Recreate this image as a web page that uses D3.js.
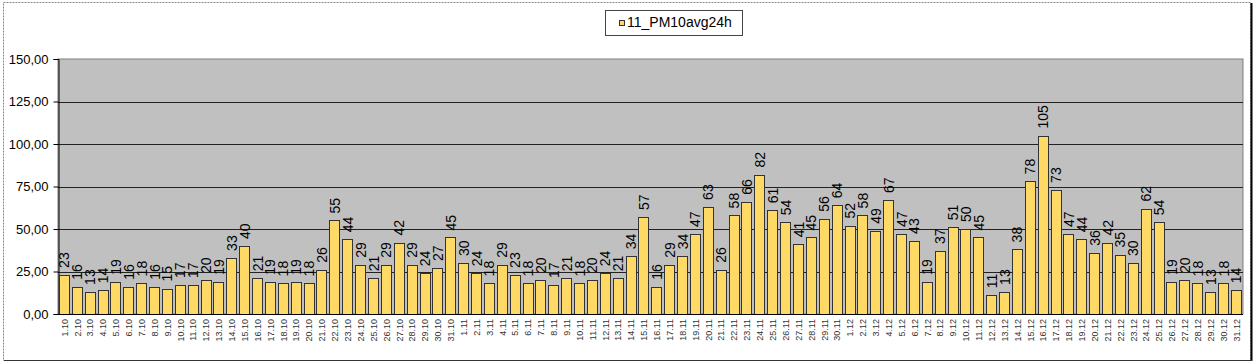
<!DOCTYPE html>
<meta charset="utf-8">
<style>
    body { margin: 0; background: #fff; font-family: Arial, "Liberation Sans", sans-serif; }
    .grid line { stroke: #222; stroke-width: 1; }
    .bar { fill: #FFD966; stroke: #333; stroke-width: 1; }
    .vlabel { font-size: 14px; fill: #000; }
    .xlabel { font-size: 9px; fill: #333; }
    .ylabel { font-size: 13px; fill: #000; }
</style>
<body>
<script src="https://d3js.org/d3.v7.min.js"></script>
<script>
    // daily PM10 24h averages, 1 Oct - 31 Dec
    var octValues = [23, 16, 13, 14, 19, 16, 18, 16, 15, 17, 17, 20, 19, 33, 40, 21, 19, 18, 19, 18,
                     26, 55, 44, 29, 21, 29, 42, 29, 24, 27, 45];
    var novValues = [30, 24, 18, 29, 23, 18, 20, 17, 21, 18, 20, 24, 21, 34, 57, 16, 29, 34, 47, 63,
                     26, 58, 66, 82, 61, 54, 41, 45, 56, 64];
    var decValues = [52, 58, 49, 67, 47, 43, 19, 37, 51, 50, 45, 11, 13, 38, 78, 105, 73, 47, 44, 36,
                     42, 35, 30, 62, 54, 19, 20, 18, 13, 18, 14];
    var months = [10, 11, 12];
    var monthLengths = [31, 30, 31];
    var seriesName = "11_PM10avg24h";
    var yTicks = [0, 25, 50, 75, 100, 125, 150];

    var values = octValues.concat(novValues, decValues);
    var categories = [];
    months.forEach(function(m, i) {
        d3.range(1, monthLengths[i] + 1).forEach(function(d) { categories.push(d + "." + m); });
    });
    var data = categories.map(function(c, i) { return {label: c, value: values[i]}; });

    var W = 1254, H = 364;
    var plot = {left: 58, right: 1243, top: 59, bottom: 314};

    var svg = d3.select("body").append("svg")
        .attr("width", W)
        .attr("height", H);

    // outer chart frame
    svg.append("rect")
        .attr("x", 3.5).attr("y", 2.5)
        .attr("width", 1247).attr("height", 358)
        .attr("fill", "#fff")
        .attr("stroke", "#888")
        .attr("stroke-dasharray", "2,1");
    svg.append("line")
        .attr("x1", 1251.5).attr("x2", 1251.5).attr("y1", 3).attr("y2", 361)
        .attr("stroke", "#000").attr("stroke-width", 2);
    svg.append("line")
        .attr("x1", 4).attr("x2", 1252).attr("y1", 360.5).attr("y2", 360.5)
        .attr("stroke", "#333").attr("stroke-width", 1);

    var x = d3.scaleBand()
        .domain(categories)
        .range([plot.left, plot.right])
        .paddingInner(0.13)
        .paddingOuter(0.07);
    var y = d3.scaleLinear()
        .domain([0, 150])
        .range([plot.bottom, plot.top]);

    // plot area
    svg.append("rect")
        .attr("x", plot.left).attr("y", plot.top)
        .attr("width", plot.right - plot.left).attr("height", plot.bottom - plot.top)
        .attr("fill", "#C0C0C0")
        .attr("stroke", "#808080");

    svg.append("g")
        .attr("class", "grid")
        .selectAll("line")
        .data(yTicks.filter(function(t) { return t > 0 && t < 150; }))
        .enter().append("line")
        .attr("x1", plot.left).attr("x2", plot.right)
        .attr("y1", function(d) { return Math.round(y(d)) + 0.5; })
        .attr("y2", function(d) { return Math.round(y(d)) + 0.5; });

    // y axis
    var yAxis = d3.axisLeft(y)
        .tickValues(yTicks)
        .tickSize(5)
        .tickPadding(5)
        .tickFormat(function(d) { return d3.format(".2f")(d).replace(".", ","); });
    var gy = svg.append("g")
        .attr("transform", "translate(" + (plot.left + 0.5) + ",0)")
        .call(yAxis);
    gy.select(".domain").attr("stroke", "#000");
    gy.selectAll(".tick line").attr("stroke", "#000");
    gy.selectAll(".tick text")
        .attr("class", "ylabel")
        .attr("font-family", null)
        .attr("font-size", null);

    // bars
    svg.append("g")
        .selectAll("rect")
        .data(data)
        .enter().append("rect")
        .attr("class", "bar")
        .attr("x", function(d) { return Math.round(x(d.label)) + 0.5; })
        .attr("y", function(d) { return Math.round(y(d.value)) + 0.5; })
        .attr("width", function() { return Math.round(x.bandwidth()) - 1; })
        .attr("height", function(d) { return Math.round(y(0)) - Math.round(y(d.value)); });

    // value labels
    svg.append("g")
        .selectAll("text")
        .data(data)
        .enter().append("text")
        .attr("class", "vlabel")
        .attr("transform", function(d) {
            return "translate(" + (x(d.label) + x.bandwidth() / 2) + "," + (y(d.value) - 7) + ") rotate(-90)";
        })
        .attr("dy", "0.35em")
        .attr("text-anchor", "start")
        .text(function(d) { return d3.format(".0f")(d.value); });

    // x axis
    svg.append("line")
        .attr("x1", plot.left).attr("x2", plot.right)
        .attr("y1", plot.bottom + 0.5).attr("y2", plot.bottom + 0.5)
        .attr("stroke", "#000");
    svg.append("g")
        .selectAll("text")
        .data(categories)
        .enter().append("text")
        .attr("class", "xlabel")
        .attr("transform", function(d) {
            return "translate(" + (x(d) + x.bandwidth() / 2) + "," + (plot.bottom + 5) + ") rotate(-90)";
        })
        .attr("dy", "0.35em")
        .attr("text-anchor", "end")
        .text(function(d) { return d; });

    // legend
    var legend = svg.append("g");
    legend.append("rect")
        .attr("x", 605.5).attr("y", 10.5)
        .attr("width", 137).attr("height", 25)
        .attr("fill", "#fff").attr("stroke", "#444");
    legend.append("rect")
        .attr("x", 619.5).attr("y", 20.5)
        .attr("width", 5).attr("height", 5)
        .attr("class", "bar");
    legend.append("text")
        .attr("x", 627).attr("y", 27)
        .attr("font-size", "14px")
        .text(seriesName);
</script>
